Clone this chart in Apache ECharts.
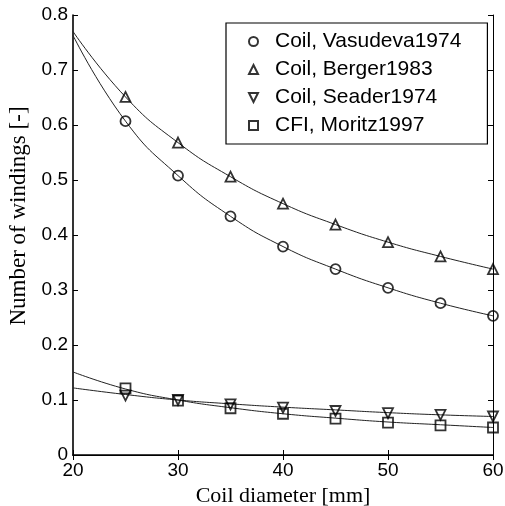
<!DOCTYPE html>
<html>
<head>
<meta charset="utf-8">
<script src="https://cdn.jsdelivr.net/npm/echarts@6/dist/echarts.min.js"></script>
<style>
  html, body { margin: 0; padding: 0; background: #fff; }
  #chart { width: 505px; height: 506px; }
</style>
</head>
<body>
<div id="chart"></div>
<script>
// measured points (markers)
var diameters = [25, 30, 35, 40, 45, 50, 55, 60]
var vasudeva = [0.607, 0.508, 0.434, 0.379, 0.338, 0.304, 0.276, 0.253]
var berger = [0.651, 0.568, 0.506, 0.457, 0.419, 0.387, 0.361, 0.338]
var seader = [0.108, 0.100, 0.092, 0.086, 0.080, 0.076, 0.073, 0.070]
var moritz = [0.121, 0.099, 0.085, 0.075, 0.066, 0.059, 0.054, 0.050]

// fitted curves
var curveX = [20, 25, 30, 35, 40, 45, 50, 55, 60]
var fitVasudeva = [0.763, 0.607, 0.508, 0.434, 0.379, 0.338, 0.304, 0.276, 0.253]
var fitBerger = [0.770, 0.651, 0.568, 0.506, 0.457, 0.419, 0.387, 0.361, 0.338]
var fitSeader = [0.122, 0.110, 0.100, 0.093, 0.087, 0.082, 0.077, 0.073, 0.070]
var fitMoritz = [0.151, 0.120, 0.100, 0.086, 0.075, 0.067, 0.060, 0.055, 0.050]

var downTriangle = 'path://M0,0 L10,0 L5,10 Z'

function pairs(xs, ys) {
  return xs.map(function (x, i) { return [x, ys[i]] })
}

function fitLine(name, ys) {
  return {
    name: name,
    type: 'line',
    smooth: true,
    symbol: 'none',
    silent: true,
    lineStyle: { color: '#222', width: 1 },
    data: pairs(curveX, ys),
    z: 2
  }
}

function markers(name, symbol, ys) {
  return {
    name: name,
    type: 'scatter',
    symbol: symbol,
    symbolSize: 10,
    itemStyle: { color: 'rgba(255,255,255,0)', borderColor: '#000', borderWidth: 1.8 },
    data: pairs(diameters, ys),
    z: 3
  }
}

var tickFont = { color: '#000', fontFamily: 'Liberation Sans', fontSize: 19 }

var chart = echarts.init(document.getElementById('chart'), null, { renderer: 'canvas' })
chart.setOption({
  animation: false,
  backgroundColor: '#fff',
  grid: { left: 73, right: 12, top: 15, bottom: 51, containLabel: false, outerBoundsMode: 'none' },
  legend: {
    orient: 'vertical',
    left: 226,
    top: 23,
    padding: [8, 26, 8, 22],
    itemGap: 7,
    itemWidth: 9,
    itemHeight: 9,
    borderColor: '#000',
    borderWidth: 1.2,
    backgroundColor: '#fff',
    itemStyle: { borderWidth: 2 },
    textStyle: { color: '#000', fontFamily: 'Liberation Sans', fontSize: 21, lineHeight: 21, padding: [0, 0, 0, 12] },
    data: ['Coil, Vasudeva1974', 'Coil, Berger1983', 'Coil, Seader1974', 'CFI, Moritz1997']
  },
  xAxis: [{
    type: 'value',
    min: 20,
    max: 60,
    interval: 10,
    name: 'Coil diameter [mm]',
    nameLocation: 'middle',
    nameGap: 25,
    nameTextStyle: { color: '#000', fontFamily: 'Liberation Serif', fontSize: 22 },
    axisLine: { onZero: false, lineStyle: { color: '#000', width: 1.6 } },
    axisTick: { inside: true, length: 5, lineStyle: { color: '#000' } },
    axisLabel: Object.assign({ margin: 6 }, tickFont),
    splitLine: { show: false }
  }, {
    type: 'value',
    position: 'top',
    min: 20,
    max: 60,
    interval: 10,
    axisLine: { lineStyle: { color: '#000', width: 1 } },
    axisTick: { inside: true, length: 5, lineStyle: { color: '#000' } },
    axisLabel: { show: false },
    splitLine: { show: false }
  }],
  yAxis: [{
    type: 'value',
    min: 0,
    max: 0.8,
    interval: 0.1,
    name: 'Number of windings [-]',
    nameLocation: 'middle',
    nameGap: 40,
    nameTextStyle: { color: '#000', fontFamily: 'Liberation Serif', fontSize: 23, padding: [0, 0, 0, 38] },
    axisLine: { onZero: false, lineStyle: { color: '#000', width: 1.6 } },
    axisTick: { inside: true, length: 5, lineStyle: { color: '#000' } },
    axisLabel: Object.assign({ margin: 5 }, tickFont),
    splitLine: { show: false }
  }, {
    type: 'value',
    position: 'right',
    min: 0,
    max: 0.8,
    interval: 0.1,
    axisLine: { lineStyle: { color: '#000', width: 1 } },
    axisTick: { inside: true, length: 5, lineStyle: { color: '#000' } },
    axisLabel: { show: false },
    splitLine: { show: false }
  }],
  series: [
    fitLine('fit Vasudeva', fitVasudeva),
    fitLine('fit Berger', fitBerger),
    fitLine('fit Seader', fitSeader),
    fitLine('fit Moritz', fitMoritz),
    markers('Coil, Vasudeva1974', 'circle', vasudeva),
    markers('Coil, Berger1983', 'triangle', berger),
    markers('Coil, Seader1974', downTriangle, seader),
    markers('CFI, Moritz1997', 'rect', moritz)
  ]
})
</script>
</body>
</html>
